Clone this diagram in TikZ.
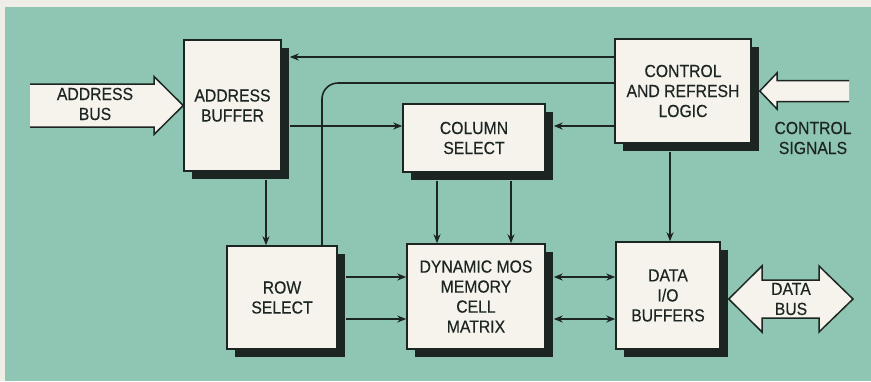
\documentclass[tikz,border=0pt]{standalone}
\usepackage{fontspec}
\setmainfont{Liberation Sans}[FakeStretch=0.9,FakeBold=0.3]
\usetikzlibrary{arrows.meta,shadows}
\definecolor{bg}{HTML}{8FC6B3}
\definecolor{frame}{HTML}{EEEEE6}
\definecolor{boxfill}{HTML}{F5F3EC}
\definecolor{ink}{HTML}{1C2521}
\tikzset{
  blk/.style={draw=ink, line width=1.5pt, fill=boxfill, align=center, inner sep=0pt,
    font=\fontsize{17.5}{20}\selectfont, text=ink,
    general shadow={fill=ink, shadow xshift=8pt, shadow yshift=-8pt}},
  conn/.style={draw=ink, line width=1.6pt, -{Stealth[length=9pt,width=7pt]}},
  bconn/.style={draw=ink, line width=1.6pt, {Stealth[length=9pt,width=7pt]}-{Stealth[length=9pt,width=7pt]}},
  plain/.style={draw=ink, line width=1.6pt},
  fat/.style={draw=ink, line width=1.5pt, line join=miter},
  lbl/.style={font=\fontsize{17.5}{20}\selectfont, align=center, text=ink, inner sep=0pt}
}
\begin{document}
\begin{tikzpicture}[x=1pt,y=-1pt]
\useasboundingbox (0,0) rectangle (871,381);
\fill[frame] (0,0) rectangle (871,381);
\fill[bg] (5,7) rectangle (871,381);

% blocks
\node[blk, minimum width=97pt, minimum height=131pt] (ab) at (232.5,105.5) {ADDRESS\\BUFFER};
\node[blk, minimum width=142pt, minimum height=68pt] (cs) at (474,138) {COLUMN\\SELECT};
\node[blk, minimum width=136pt, minimum height=104pt] (ctrl) at (683,91) {CONTROL\\AND REFRESH\\LOGIC};
\node[blk, minimum width=110pt, minimum height=103pt] (rs) at (282,297.5) {ROW\\SELECT};
\node[blk, minimum width=138pt, minimum height=105pt] (dm) at (476,296.5) {DYNAMIC MOS\\MEMORY\\CELL\\MATRIX};
\node[blk, minimum width=104pt, minimum height=107pt] (dio) at (668,295.5) {DATA\\I/O\\BUFFERS};

% shadow-edge helper coordinates
\coordinate (abR) at ([xshift=8pt]ab.east);
\coordinate (abB) at ([yshift=-8pt]ab.south);
\coordinate (csR) at ([xshift=8pt]cs.east);
\coordinate (csB) at ([yshift=-8pt]cs.south);
\coordinate (rsR) at ([xshift=8pt]rs.east);
\coordinate (dmR) at ([xshift=8pt]dm.east);
\coordinate (ctrlR) at ([xshift=8pt]ctrl.east);
\coordinate (ctrlB) at ([yshift=-8pt]ctrl.south);
\coordinate (dioR) at ([xshift=8pt]dio.east);

% connectors
\draw[conn] (ctrl.west |- 0,57) -- (abR |- 0,57);
\draw[plain, rounded corners=16pt] (ctrl.west |- 0,83) -| (rs.north -| 322,0);
\draw[conn] (abR |- 0,126) -- (cs.west |- 0,126);
\draw[conn] (ctrl.west |- 0,126) -- (csR |- 0,126);
\draw[conn] (abB -| 266,0) -- (rs.north -| 266,0);
\draw[conn] (csB -| 437,0) -- (dm.north -| 437,0);
\draw[conn] (csB -| 511,0) -- (dm.north -| 511,0);
\draw[conn] (rsR |- 0,277) -- (dm.west |- 0,277);
\draw[conn] (rsR |- 0,319) -- (dm.west |- 0,319);
\draw[bconn] (dmR |- 0,277) -- (dio.west |- 0,277);
\draw[bconn] (dmR |- 0,319) -- (dio.west |- 0,319);
\draw[conn] (ctrlB -| 670,0) -- (dio.north -| 670,0);

% address bus fat arrow
\coordinate (abTip) at (ab.west);
\fill[boxfill] (30,84) -- (154,84) -- (154,76.5) -- (abTip) -- (154,134.5) -- (154,127) -- (30,127) -- cycle;
\draw[fat] (30,84) -- (154,84) -- (154,76.5) -- (abTip) -- (154,134.5) -- (154,127) -- (30,127);
\node[lbl] (abus) at (95,104) {ADDRESS\\BUS};

% control signals fat arrow
\coordinate (csTip) at (ctrlR);
\fill[boxfill] (849,80.5) -- (777,80.5) -- (777,73) -- (csTip) -- (777,109) -- (777,101.5) -- (849,101.5) -- cycle;
\draw[fat] (849,80.5) -- (777,80.5) -- (777,73) -- (csTip) -- (777,109) -- (777,101.5) -- (849,101.5);
\node[lbl] (csig) at (813,138) {CONTROL\\SIGNALS};

% data bus double arrow
\coordinate (dbL) at (dioR |- 0,299);
\draw[fat, fill=boxfill] (dbL) -- (762,266) -- (762,280) -- (819,280) -- (819,266) -- (853,299)
  -- (819,332) -- (819,318) -- (762,318) -- (762,332) -- cycle;
\node[lbl] (dbus) at (791,299) {DATA\\BUS};
\end{tikzpicture}
\end{document}
